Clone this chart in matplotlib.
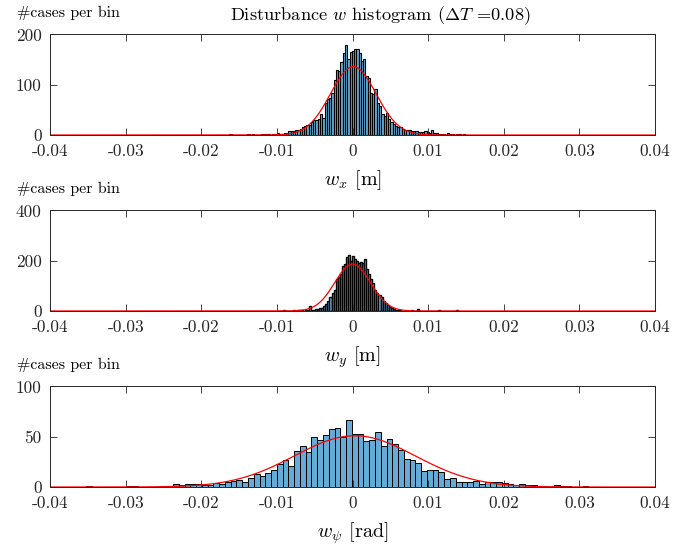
import numpy as np
import matplotlib
matplotlib.use("Agg")
import matplotlib.pyplot as plt

plt.rcParams['font.family'] = 'cmr10'
plt.rcParams['mathtext.fontset'] = 'cm'
plt.rcParams['axes.unicode_minus'] = False

# histogram data (counts per bin)
wx_start, wx_width = -0.0163, 0.0003
wx_counts = [1, 0, 0, 0, 0, 0, 0, 0, 1, 0, 2, 0, 0, 0, 1, 2, 1, 2, 0, 1, 2, 3, 2, 1, 3, 4,
             8, 7, 8, 9, 10, 12, 16, 17, 20, 19, 25, 29, 30,
             31, 41, 34, 64, 71, 74, 84, 109, 129, 127, 146, 164, 179, 151, 166, 167, 172, 171,
             164, 147, 151, 117, 114, 84, 81, 91, 64, 57, 41, 37, 44, 31,
             25, 22, 18, 16, 15, 12, 10, 9, 9, 8, 8, 7, 6, 5, 6, 7, 6, 4, 10, 3, 3,
             2, 1, 2, 0, 3, 1, 2, 0, 1, 2, 0, 1]

wy_start, wy_width = -0.0098, 0.00027
wy_counts = [1, 0, 2, 0, 1, 0, 0, 3, 0, 2, 3,
             2, 0, 3, 3, 20, 3, 5, 6, 8, 11, 13, 18, 28, 40, 55, 70, 85, 128, 135, 148,
             178, 185, 215, 222, 200, 220, 208, 198, 190, 195, 192, 205, 165, 148, 128,
             112, 83, 70, 62, 55, 40, 30, 22, 16, 10, 6, 4, 3, 2, 1,
             0, 1, 0, 0, 2, 0, 0, 7, 0, 0, 1, 0, 0, 0, 0, 0, 0, 5, 0, 0, 0, 0, 0, 0, 0, 0, 2]

wpsi_start, wpsi_width = -0.0390, 0.000763
wpsi_counts = [0, 0, 0, 0, 0, 1, 0, 0, 0, 0, 0, 0, 1, 1, 0, 0, 0, 0, 1, 0,
               3, 2, 3, 3, 3, 2, 2, 4, 3, 5, 6, 7, 5, 9, 13, 11,
               14, 17, 23, 27, 21, 36, 41, 35, 50, 47, 52, 58, 59, 50, 67, 53, 53, 46, 47,
               55, 41, 48, 43, 37, 28, 27, 24, 16, 17, 17, 15, 8, 9, 5, 5, 5, 6, 3, 5,
               5, 5, 4, 3, 2, 3, 2, 2, 1, 1, 0, 2, 1, 1, 0, 0, 1]

# fitted normal curves: (mean, sigma, peak height)
wx_fit = (0.0001, 0.0030, 136)
wy_fit = (0.0, 0.00235, 187)
wpsi_fit = (0.0003, 0.0080, 51)

xlabels = [r'$w_x$ [m]', r'$w_y$ [m]', r'$w_\psi$ [rad]']
ylims = [200, 400, 100]
xticks = [-0.04, -0.03, -0.02, -0.01, 0, 0.01, 0.02, 0.03, 0.04]
xticklabels = ['-0.04', '-0.03', '-0.02', '-0.01', '0', '0.01', '0.02', '0.03', '0.04']

bar_color = (0.4, 0.667, 0.843)
edge_widths = [0.8, 1.0, 0.7]

fig = plt.figure(figsize=(6.92, 5.45), dpi=100)
bottoms = [0.7523, 0.4294, 0.1064]
data = [(wx_start, wx_width, wx_counts, wx_fit),
        (wy_start, wy_width, wy_counts, wy_fit),
        (wpsi_start, wpsi_width, wpsi_counts, wpsi_fit)]

xs = np.linspace(-0.04, 0.04, 1600)
for i, (start, width, counts, fit) in enumerate(data):
    ax = fig.add_axes([0.0723, bottoms[i], 0.8743, 0.1845])
    counts = np.array(counts)
    lefts = start + width * np.arange(len(counts))
    ax.bar(lefts, counts, width=width, align='edge', color=bar_color,
           edgecolor='black', linewidth=edge_widths[i])
    mu, sig, peak = fit
    ax.plot(xs, peak * np.exp(-(xs - mu) ** 2 / (2 * sig ** 2)), color='red', lw=0.9)
    ax.set_xlim(-0.04, 0.04)
    ax.set_ylim(0, ylims[i])
    ax.set_yticks([0, ylims[i] / 2, ylims[i]])
    ax.set_yticklabels([str(int(v)) for v in [0, ylims[i] / 2, ylims[i]]])
    ax.set_xticks(xticks)
    ax.set_xticklabels(xticklabels)
    ax.tick_params(direction='in', top=True, right=True, length=5, width=0.6,
                   labelsize=12.5, colors='#262626', pad=6)
    for s in ax.spines.values():
        s.set_linewidth(0.7)
        s.set_color('#262626')
    ax.set_xlabel(xlabels[i], fontsize=14.5, labelpad=7)
    ax.text(-0.055, 1.21, '#cases per bin', transform=ax.transAxes,
            ha='left', va='center', fontsize=11.5)

fig.text(380 / 692, 1 - 16 / 545, r'Disturbance $w$ histogram ($\Delta T$ =0.08)',
         ha='center', va='center', fontsize=13.2)

plt.savefig('out.png', dpi=100)
